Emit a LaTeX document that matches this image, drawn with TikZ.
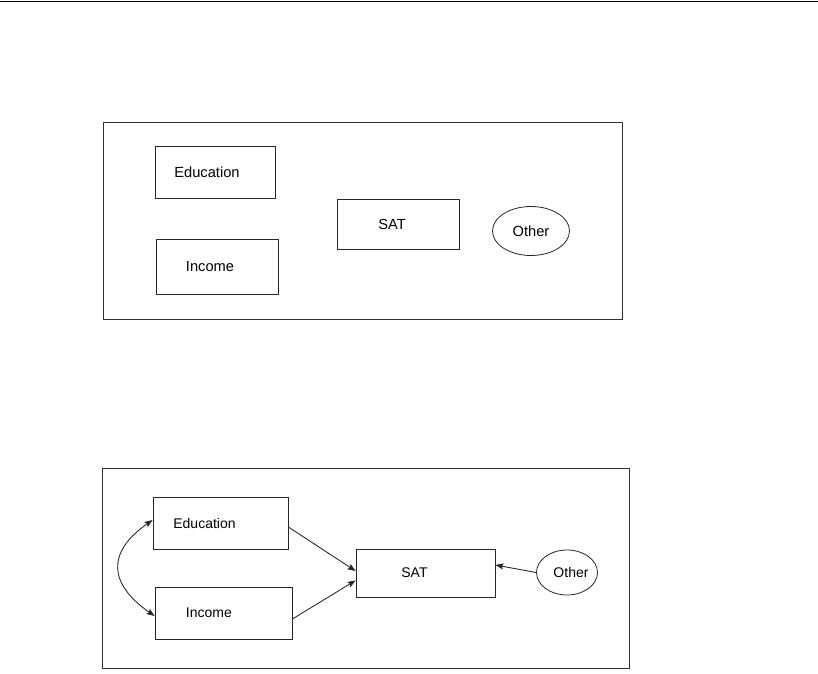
\documentclass[tikz,border=0pt]{standalone}
\usepackage{fontspec}
\setmainfont{Liberation Sans}
\usetikzlibrary{arrows.meta,shapes.geometric}

\begin{document}
\begin{tikzpicture}[
    x=0.75pt, y=-0.75pt,
    box/.style={rectangle, draw=black!85, line width=0.6pt, inner sep=0pt, font=\fontsize{11}{13}\selectfont},
    oval/.style={box, ellipse},
    small/.style={font=\fontsize{10.5}{12}\selectfont},
    frame/.style={draw=black!80, line width=0.7pt},
    arrow/.style={-{Stealth[length=6pt, width=4.5pt, inset=1pt]}, line width=0.65pt, black!85},
    dblarrow/.style={{Stealth[length=6pt, width=4.5pt, inset=1pt]}-{Stealth[length=6pt, width=4.5pt, inset=1pt]}, line width=0.65pt, black!85},
    shl/.style={execute at end node={\hspace*{#1}}}
]
\useasboundingbox (0,0) rectangle (818,674);
\draw[line width=1.1pt] (0,1.5) -- (818,1.5);

% Upper model: no paths
\draw[frame] (103,122) rectangle (622,319);
\node[box, shl=12pt, minimum width=90pt, minimum height=39pt] (eduA) at (215,172) {Education};
\node[box, shl=10.5pt, minimum width=91.5pt, minimum height=41.25pt] (incA) at (217,267) {Income};
\node[box, shl=9pt, minimum width=91.5pt, minimum height=38pt] (satA) at (398,224.5) {SAT};
\node[oval, minimum width=57.75pt, minimum height=36.75pt] (othA) at (531,231) {Other};

% Lower model: with paths
\draw[frame] (102,468) rectangle (629,668);
\node[box, small, shl=24pt, minimum width=101.25pt, minimum height=39pt] (eduB) at (220.5,523) {Education};
\node[box, small, shl=22pt, minimum width=102.75pt, minimum height=39pt] (incB) at (223.5,613) {Income};
\node[box, small, shl=16.5pt, minimum width=104.25pt, minimum height=36pt] (satB) at (425.5,573) {SAT};
\node[oval, small, shl=-6pt, minimum width=45.75pt, minimum height=33.75pt] (othB) at (567,572.5) {Other};

% Paths
\draw[arrow] ([yshift=-3pt]eduB.east) -- ([yshift=1.5pt]satB.west);
\draw[arrow] ([yshift=-4.5pt]incB.east) -- ([yshift=-5.6pt]satB.west);
\draw[arrow] (othB.west) -- ([yshift=6pt]satB.east);
\draw[dblarrow] ([yshift=2.25pt]eduB.west) to[out=215, in=145, looseness=1.5] ([yshift=-2.25pt]incB.west);
\end{tikzpicture}
\end{document}
